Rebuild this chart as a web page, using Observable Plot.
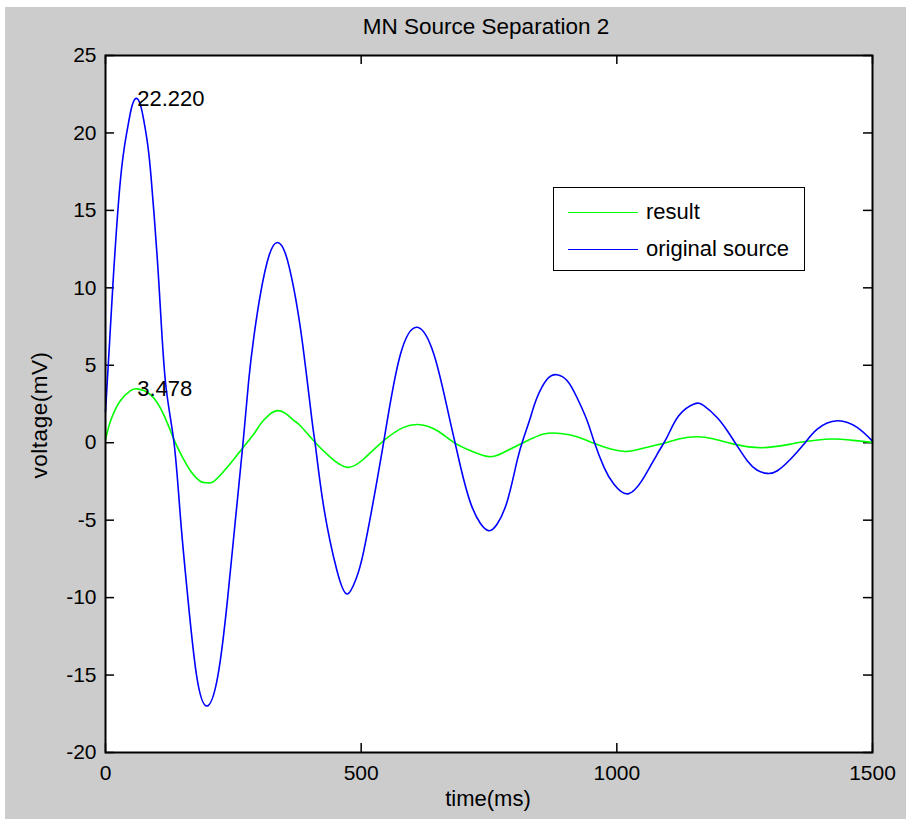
<!DOCTYPE html>
<html>
<head>
<meta charset="utf-8">
<script src="https://cdn.jsdelivr.net/npm/d3@7"></script>
<script src="https://cdn.jsdelivr.net/npm/@observablehq/plot@0.6"></script>
<style>
html,body{margin:0;padding:0;background:#ffffff;}
#fig{position:absolute;left:5px;top:7px;width:901px;height:812px;background:#cccccc;overflow:hidden;font-family:"Liberation Sans",Arial,sans-serif;color:#000;}
#fig svg{position:absolute;left:0;top:0;}
.lbl{position:absolute;font-size:22px;white-space:nowrap;line-height:1;transform:translate(-50%,-50%);}
#title{left:481px;top:20px;font-size:22.5px;}
#xlabel{left:483px;top:792px;}
#ylabel{left:35px;top:408px;font-size:22.5px;letter-spacing:0.5px;transform:translate(-50%,-50%) rotate(-90deg);}
#legend{position:absolute;left:548px;top:180px;width:250px;height:82px;background:#fff;border:1px solid #000;}
.legrow{position:absolute;left:0;height:24px;width:250px;}
.legline{position:absolute;left:14px;width:70px;top:12px;height:0;border-top:1.5px solid;}
.legtext{position:absolute;left:92px;top:0;font-size:22px;line-height:24px;}
</style>
</head>
<body>
<div id="fig"></div>
<script>
// ---- data ----
const chartTitle = "MN Source Separation 2";
const xLabel = "time(ms)";
const yLabel = "voltage(mV)";

const xTicks = [0, 500, 1000, 1500];
const xTickLabels = ["0", "500", "1000", "1500"];
const yTicks = [-20, -15, -10, -5, 0, 5, 10, 15, 20, 25];
const yTickLabels = ["-20", "-15", "-10", "-5", "0", "5", "10", "15", "20", "25"];

// original source (blue)
const sourceT = [0,8,15,29,42,50,59,70,81,89,104,117,134,147,161,178,198,220,239,254,269,280,290,303,320,336,352,368,385,404,411,427,453,473,490,505,531,551,577,610,642,668,694,714,733,750,766,786,805,818,831,844,864,883,903,922,942,955,975,994,1022,1053,1079,1098,1121,1151,1170,1196,1216,1235,1255,1274,1294,1314,1340,1366,1392,1431,1470,1500];
const sourceV = [2.0,6.5,10.5,16.9,20.1,21.5,22.22,21.6,19.6,17.2,10.5,4.0,0,-5.0,-10.0,-15.0,-17.0,-15.0,-10.0,-5.0,0,4.0,6.8,9.6,12.1,12.93,12.2,10.0,6.5,1.4,-0.3,-4.2,-8.3,-9.77,-8.8,-7.0,-2.45,1.42,5.73,7.45,5.73,2.28,-1.5,-3.9,-5.2,-5.68,-5.25,-3.74,-1.16,0.34,1.63,2.92,4.11,4.39,4.0,2.92,1.42,0.13,-1.59,-2.67,-3.3,-2.24,-0.73,0.34,1.74,2.5,2.39,1.63,0.77,-0.19,-1.16,-1.76,-1.98,-1.81,-1.05,-0.09,0.88,1.42,0.99,0.1];

// result (green)
const resultT = [0,10,29,49,62,88,114,134,150,166,186,199,212,238,264,290,303,320,336,352,368,381,407,440,473,505,544,583,616,649,681,714,750,779,818,857,890,922,955,988,1020,1053,1092,1121,1157,1190,1229,1284,1340,1372,1418,1457,1500];
const resultV = [0.2,1.42,2.71,3.36,3.478,3.1,1.8,0.2,-0.9,-1.81,-2.5,-2.58,-2.5,-1.59,-0.52,0.56,1.2,1.8,2.07,1.9,1.45,1.1,0.13,-0.95,-1.59,-1.05,0.13,0.99,1.16,0.77,0.02,-0.52,-0.9,-0.62,0.02,0.56,0.6,0.39,-0.04,-0.41,-0.56,-0.34,-0.04,0.24,0.39,0.24,-0.09,-0.32,-0.09,0.09,0.24,0.17,0.02];

// peak annotations
const peakT = [62, 62];
const peakV = [22.22, 3.478];
const peakText = ["22.220", "3.478"];

const legendNames = ["result", "original source"];
const legendColors = ["#00ff00", "#0000ff"];

// ---- build ----
const source = sourceT.map((t, i) => ({t, v: sourceV[i]}));
const result = resultT.map((t, i) => ({t, v: resultV[i]}));
const peaks = peakT.map((t, i) => ({t, v: peakV[i], label: peakText[i]}));

const W = 901, H = 812, ML = 100, MT = 48, MR = 34, MB = 67;
const frameW = W - ML - MR, frameH = H - MT - MB, tickLen = 9;

const chart = Plot.plot({
  width: W, height: H,
  marginLeft: ML, marginTop: MT, marginRight: MR, marginBottom: MB,
  style: {background: "transparent", fontFamily: '"Liberation Sans", Arial, sans-serif', fontSize: "21px", color: "#000", overflow: "visible"},
  x: {domain: [0, 1500]},
  y: {domain: [-20, 25]},
  marks: [
    Plot.frame({fill: "white", stroke: null}),
    Plot.axisX(xTicks, {anchor: "bottom", tickSize: 0, tickPadding: 13, label: null, tickFormat: d => xTickLabels[xTicks.indexOf(d)], fill: "#000"}),
    Plot.axisY(yTicks, {anchor: "left", tickSize: 0, tickPadding: 9, label: null, tickFormat: d => yTickLabels[yTicks.indexOf(d)], fill: "#000"}),
    Plot.tickX(xTicks, {x: d => d, insetTop: frameH - tickLen, stroke: "#000", strokeWidth: 1.5}),
    Plot.tickX(xTicks, {x: d => d, insetBottom: frameH - tickLen, stroke: "#000", strokeWidth: 1.5}),
    Plot.tickY(yTicks, {y: d => d, insetRight: frameW - tickLen, stroke: "#000", strokeWidth: 1.5}),
    Plot.tickY(yTicks, {y: d => d, insetLeft: frameW - tickLen, stroke: "#000", strokeWidth: 1.5}),
    Plot.line(result, {x: "t", y: "v", stroke: legendColors[0], strokeWidth: 1.6, curve: "natural"}),
    Plot.line(source, {x: "t", y: "v", stroke: legendColors[1], strokeWidth: 1.6, curve: "natural"}),
    Plot.text(peaks, {x: "t", y: "v", text: "label", textAnchor: "start", fill: "#000", fontSize: 22}),
    Plot.frame({stroke: "#000", strokeWidth: 2})
  ]
});

const fig = document.getElementById("fig");
fig.appendChild(chart);

function addLabel(id, txt) {
  const d = document.createElement("div");
  d.id = id; d.className = "lbl"; d.textContent = txt;
  fig.appendChild(d);
}
addLabel("title", chartTitle);
addLabel("xlabel", xLabel);
addLabel("ylabel", yLabel);

const leg = document.createElement("div");
leg.id = "legend";
const rowTops = [12, 49];
legendNames.forEach((name, i) => {
  const row = document.createElement("div");
  row.className = "legrow";
  row.style.top = rowTops[i] + "px";
  const ln = document.createElement("div");
  ln.className = "legline";
  ln.style.borderTopColor = legendColors[i];
  const tx = document.createElement("div");
  tx.className = "legtext";
  tx.textContent = name;
  row.appendChild(ln); row.appendChild(tx);
  leg.appendChild(row);
});
fig.appendChild(leg);
</script>
</body>
</html>
